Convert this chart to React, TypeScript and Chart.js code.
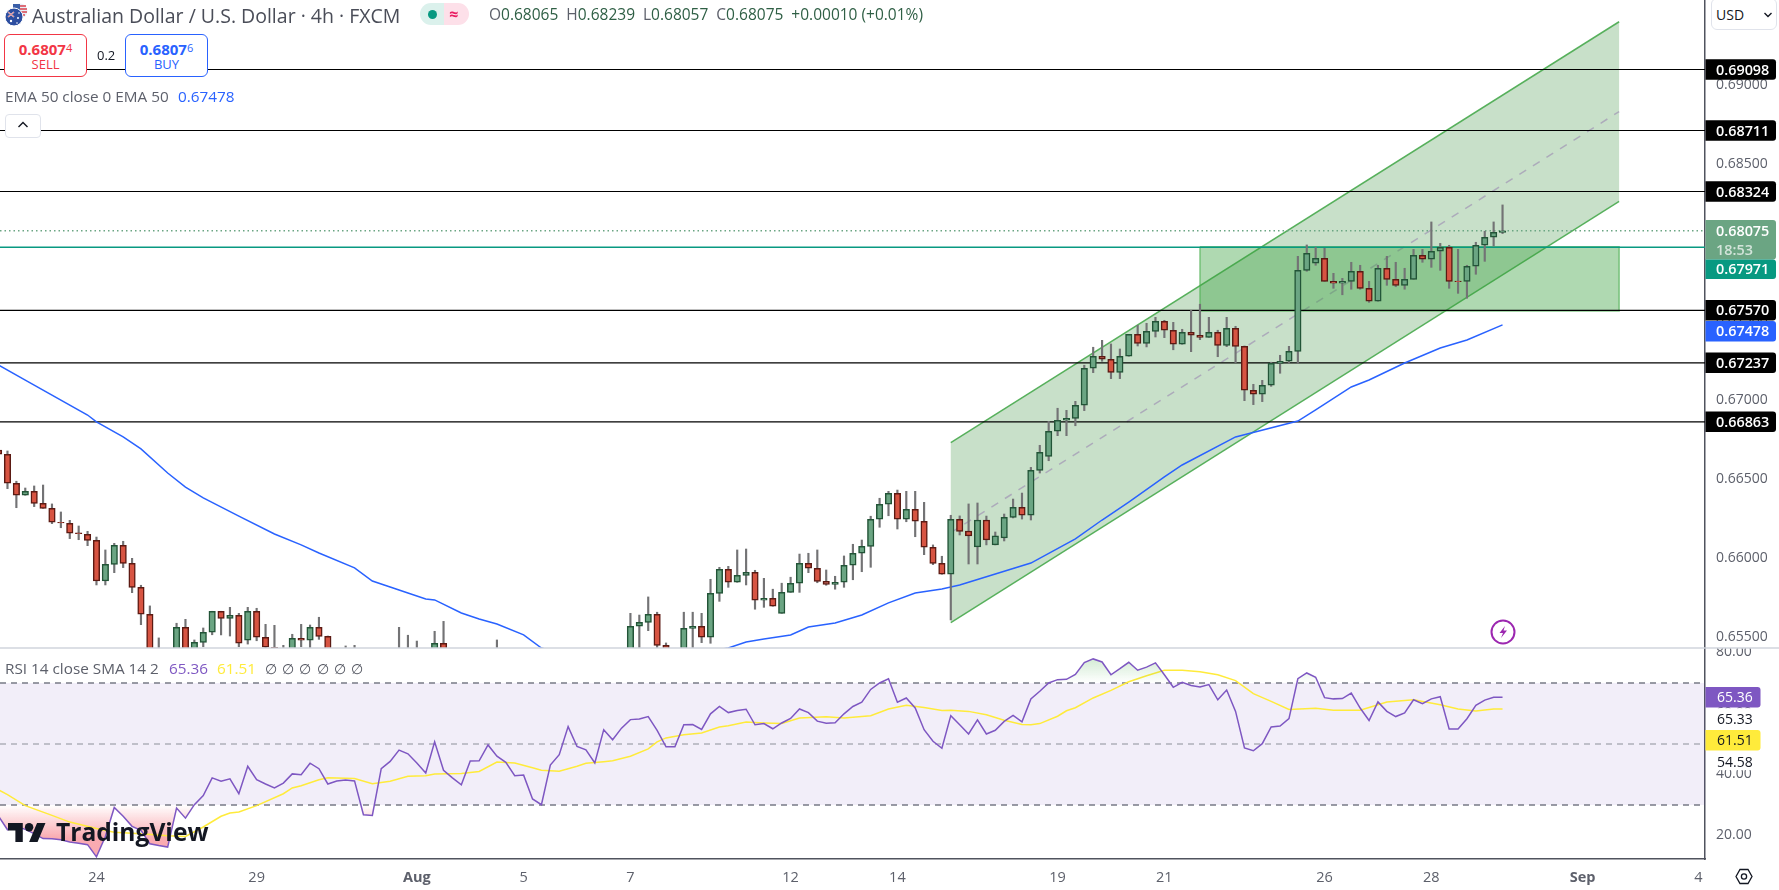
import { useEffect, useRef } from 'react'
import type { ReactNode } from 'react'
import { Chart, registerables } from 'chart.js'

Chart.register(...registerables)

// candles, first entry is the one half cut off at the left edge (index -1)
const opens = [
  0.66684, 0.66657, 0.66473, 0.66397, 0.66422, 0.66346, 0.66314, 0.66226, 0.66219, 0.66158,
  0.66149, 0.66111, 0.65853, 0.65959, 0.66080, 0.65965, 0.65813, 0.65642, 0.65377, 0.65162,
  0.65257, 0.65559, 0.65352, 0.65464, 0.65528, 0.65661, 0.65616, 0.65636, 0.65477, 0.65661,
  0.65496, 0.65433, 0.65384, 0.65339, 0.65490, 0.65477, 0.65559, 0.65502, 0.65320, 0.65225,
  0.65352, 0.65225, 0.65257, 0.65352, 0.65238, 0.65320, 0.65301, 0.65371, 0.65289, 0.65384,
  0.65458, 0.65365, 0.65290, 0.65350, 0.65280, 0.65340, 0.65420, 0.65380, 0.65310, 0.65360,
  0.65395, 0.65330, 0.65385, 0.65340, 0.65390, 0.65410, 0.65360, 0.65395, 0.65415, 0.65380,
  0.65370, 0.65384, 0.65566, 0.65591, 0.65642, 0.65445, 0.65301, 0.65377, 0.65553, 0.65566,
  0.65496, 0.65775, 0.65927, 0.65845, 0.65889, 0.65908, 0.65731, 0.65743, 0.65648, 0.65781,
  0.65839, 0.65965, 0.65934, 0.65851, 0.65832, 0.65845, 0.65953, 0.66029, 0.66073, 0.66245,
  0.66340, 0.66409, 0.66245, 0.66308, 0.66232, 0.66067, 0.65965, 0.65896, 0.66245, 0.66170,
  0.66069, 0.66240, 0.66082, 0.66126, 0.66257, 0.66321, 0.66270, 0.66555, 0.66644, 0.66803,
  0.66873, 0.66885, 0.66968, 0.67203, 0.67279, 0.67260, 0.67177, 0.67279, 0.67418, 0.67361,
  0.67437, 0.67501, 0.67444, 0.67355, 0.67431, 0.67412, 0.67399, 0.67431, 0.67348, 0.67456,
  0.67342, 0.67063, 0.67038, 0.67095, 0.67234, 0.67247, 0.67310, 0.67824, 0.67869, 0.67900,
  0.67754, 0.67742, 0.67754, 0.67818, 0.67710, 0.67628, 0.67837, 0.67767, 0.67729, 0.67767,
  0.67919, 0.67894, 0.67945, 0.67970, 0.67756, 0.67754, 0.67850, 0.67983, 0.68034, 0.68065,
]
const highs = [
  0.66716, 0.66678, 0.66486, 0.66443, 0.66456, 0.66462, 0.66342, 0.66291, 0.66238, 0.66202,
  0.66168, 0.66132, 0.66050, 0.66092, 0.66105, 0.65997, 0.65826, 0.65695, 0.65492, 0.65415,
  0.65585, 0.65610, 0.65479, 0.65555, 0.65661, 0.65661, 0.65686, 0.65648, 0.65686, 0.65680,
  0.65578, 0.65572, 0.65445, 0.65515, 0.65578, 0.65574, 0.65623, 0.65504, 0.65384, 0.65441,
  0.65445, 0.65365, 0.65403, 0.65384, 0.65415, 0.65559, 0.65509, 0.65472, 0.65415, 0.65534,
  0.65597, 0.65400, 0.65400, 0.65395, 0.65390, 0.65415, 0.65479, 0.65410, 0.65400, 0.65420,
  0.65415, 0.65410, 0.65405, 0.65415, 0.65425, 0.65420, 0.65418, 0.65425, 0.65425, 0.65420,
  0.65420, 0.65648, 0.65637, 0.65752, 0.65655, 0.65460, 0.65415, 0.65655, 0.65655, 0.65648,
  0.65864, 0.65940, 0.65946, 0.66050, 0.66056, 0.65921, 0.65870, 0.65801, 0.65839, 0.65877,
  0.66024, 0.66029, 0.66050, 0.65923, 0.65883, 0.66012, 0.66086, 0.66113, 0.66264, 0.66378,
  0.66422, 0.66430, 0.66422, 0.66422, 0.66352, 0.66082, 0.66010, 0.66270, 0.66266, 0.66342,
  0.66348, 0.66265, 0.66164, 0.66278, 0.66373, 0.66411, 0.66574, 0.66714, 0.66866, 0.66949,
  0.66936, 0.66993, 0.67222, 0.67336, 0.67380, 0.67357, 0.67325, 0.67418, 0.67475, 0.67488,
  0.67526, 0.67507, 0.67494, 0.67450, 0.67570, 0.67609, 0.67526, 0.67444, 0.67526, 0.67469,
  0.67344, 0.67101, 0.67126, 0.67241, 0.67285, 0.67342, 0.67913, 0.67985, 0.67970, 0.67964,
  0.67805, 0.67773, 0.67875, 0.67856, 0.67754, 0.67856, 0.67913, 0.67875, 0.67837, 0.67957,
  0.67957, 0.68131, 0.67995, 0.67983, 0.67957, 0.67856, 0.68002, 0.68072, 0.68131, 0.68239,
]
const lows = [
  0.66633, 0.66439, 0.66318, 0.66397, 0.66325, 0.66314, 0.66217, 0.66191, 0.66122, 0.66115,
  0.66077, 0.65828, 0.65828, 0.65906, 0.65938, 0.65779, 0.65576, 0.65301, 0.65225, 0.65111,
  0.65193, 0.65301, 0.65314, 0.65436, 0.65512, 0.65511, 0.65504, 0.65436, 0.65453, 0.65474,
  0.65384, 0.65301, 0.65276, 0.65289, 0.65436, 0.65422, 0.65483, 0.65276, 0.65162, 0.65162,
  0.65193, 0.65162, 0.65212, 0.65174, 0.65193, 0.65257, 0.65238, 0.65225, 0.65238, 0.65352,
  0.65320, 0.65260, 0.65250, 0.65240, 0.65250, 0.65310, 0.65320, 0.65270, 0.65280, 0.65330,
  0.65300, 0.65300, 0.65310, 0.65320, 0.65360, 0.65330, 0.65340, 0.65375, 0.65350, 0.65360,
  0.65340, 0.65352, 0.65384, 0.65538, 0.65403, 0.65320, 0.65276, 0.65352, 0.65403, 0.65462,
  0.65458, 0.65724, 0.65813, 0.65845, 0.65828, 0.65674, 0.65686, 0.65693, 0.65648, 0.65781,
  0.65781, 0.65906, 0.65842, 0.65826, 0.65801, 0.65813, 0.65861, 0.65912, 0.65940, 0.66194,
  0.66267, 0.66183, 0.66229, 0.66134, 0.66020, 0.65957, 0.65896, 0.65606, 0.66145, 0.65961,
  0.65961, 0.66082, 0.66082, 0.66107, 0.66253, 0.66246, 0.66240, 0.66538, 0.66616, 0.66775,
  0.66775, 0.66838, 0.66934, 0.67175, 0.67247, 0.67137, 0.67137, 0.67279, 0.67344, 0.67338,
  0.67401, 0.67397, 0.67320, 0.67355, 0.67308, 0.67384, 0.67399, 0.67276, 0.67340, 0.67238,
  0.66997, 0.66972, 0.66991, 0.67088, 0.67171, 0.67234, 0.67234, 0.67818, 0.67856, 0.67754,
  0.67710, 0.67669, 0.67704, 0.67704, 0.67621, 0.67628, 0.67729, 0.67720, 0.67704, 0.67767,
  0.67875, 0.67843, 0.67824, 0.67710, 0.67678, 0.67647, 0.67799, 0.67881, 0.67978, 0.68057,
]
const closes = [
  0.66657, 0.66473, 0.66397, 0.66422, 0.66346, 0.66314, 0.66226, 0.66222, 0.66156, 0.66154,
  0.66111, 0.65853, 0.65959, 0.66080, 0.65965, 0.65813, 0.65642, 0.65352, 0.65276, 0.65320,
  0.65559, 0.65352, 0.65464, 0.65528, 0.65661, 0.65616, 0.65636, 0.65458, 0.65661, 0.65496,
  0.65433, 0.65365, 0.65320, 0.65490, 0.65477, 0.65559, 0.65502, 0.65320, 0.65238, 0.65339,
  0.65276, 0.65301, 0.65352, 0.65238, 0.65365, 0.65403, 0.65371, 0.65289, 0.65384, 0.65458,
  0.65365, 0.65301, 0.65350, 0.65280, 0.65340, 0.65390, 0.65360, 0.65310, 0.65360, 0.65395,
  0.65330, 0.65385, 0.65340, 0.65390, 0.65410, 0.65360, 0.65395, 0.65415, 0.65380, 0.65405,
  0.65384, 0.65566, 0.65591, 0.65642, 0.65445, 0.65365, 0.65377, 0.65553, 0.65566, 0.65496,
  0.65775, 0.65927, 0.65845, 0.65889, 0.65908, 0.65731, 0.65743, 0.65693, 0.65781, 0.65839,
  0.65965, 0.65934, 0.65851, 0.65832, 0.65845, 0.65953, 0.66029, 0.66073, 0.66245, 0.66340,
  0.66409, 0.66245, 0.66308, 0.66232, 0.66067, 0.65965, 0.65896, 0.66245, 0.66168, 0.66139,
  0.66240, 0.66113, 0.66139, 0.66257, 0.66321, 0.66270, 0.66555, 0.66670, 0.66803, 0.66873,
  0.66885, 0.66968, 0.67203, 0.67279, 0.67260, 0.67177, 0.67279, 0.67418, 0.67361, 0.67437,
  0.67501, 0.67444, 0.67355, 0.67431, 0.67412, 0.67399, 0.67431, 0.67348, 0.67456, 0.67342,
  0.67063, 0.67038, 0.67095, 0.67234, 0.67247, 0.67310, 0.67824, 0.67932, 0.67900, 0.67754,
  0.67742, 0.67754, 0.67818, 0.67710, 0.67628, 0.67837, 0.67767, 0.67729, 0.67767, 0.67919,
  0.67894, 0.67945, 0.67970, 0.67754, 0.67752, 0.67850, 0.67983, 0.68034, 0.68065, 0.68075,
]

// EMA 50, read at these candle indexes
const emaIndexes = [
  -1, 2, 9, 10, 13, 15, 18, 20, 22, 26, 30, 33, 35, 39, 41, 43, 45, 47, 48, 51, 53, 55, 58, 60,
  66, 74, 81, 83, 85, 88, 90, 93, 96, 99, 102, 105, 107, 115, 120, 123, 126, 130, 132, 138, 145,
  147, 151, 153, 157, 161, 164, 168,
]
const emaValues = [
  0.67223, 0.67128, 0.66906, 0.66862, 0.66767, 0.66691, 0.66538, 0.66449, 0.6638, 0.66265, 0.66151,
  0.66082, 0.66031, 0.65936, 0.65853, 0.65815, 0.65777, 0.65739, 0.65733, 0.6565, 0.65612, 0.6558,
  0.65511, 0.65428, 0.6534, 0.6536, 0.65428, 0.65466, 0.65485, 0.65511, 0.65561, 0.65587, 0.65637,
  0.65714, 0.65777, 0.65802, 0.65828, 0.65967, 0.6612, 0.6624, 0.66354, 0.66513, 0.66589, 0.66767,
  0.66868, 0.66938, 0.67084, 0.67128, 0.67236, 0.67331, 0.67382, 0.67478,
]

// RSI 14, one value per candle
const rsiValues = [
  26.3, 21.9, 23, 22, 20.6, 19, 18.9, 18.6, 17.9, 17.5, 17, 13, 19.7, 29.2, 26.3, 23, 21.7, 17.3, 16.7, 16.2,
  29, 25.7, 30.1, 33.1, 38.9, 37.8, 38.6, 33.7, 42.7, 38.3, 36.9, 35.6, 37.2, 40.2, 39.9, 43.7, 41.9, 36.9, 37.9, 38.2,
  37.9, 26.8, 26.6, 41.9, 44.3, 48, 46.8, 43.8, 40.5, 50.7, 41.4, 38.9, 36.6, 44.4, 44.5, 49.7, 46, 44, 39.6, 39.8,
  32, 30.1, 43.1, 46.5, 55.7, 49.2, 48.1, 43.8, 54.7, 51.4, 55.2, 58, 58.2, 59, 54.5, 49.1, 49.1, 56.3, 56.4, 54.8,
  59.9, 62.3, 60.3, 61, 61.4, 56.3, 56.7, 55, 56.9, 58.4, 61.5, 60.3, 57.5, 56.8, 57, 59.9, 62.3, 63.7, 67.9, 70,
  71.4, 63.7, 65.1, 61.8, 54.7, 50.9, 48.6, 59.3, 56.3, 53.3, 57.9, 53.3, 54.5, 57.4, 59.4, 57.3, 64.8, 67.3, 70, 71.1,
  71.2, 72.8, 76.7, 77.9, 76.9, 72.7, 74.7, 76.8, 74.2, 75.2, 76.6, 72.7, 68.6, 70.2, 69.2, 68.7, 69.5, 64.5, 67.7, 60.7,
  48.7, 47.8, 50.1, 55.6, 55.9, 58.3, 71.4, 73.3, 71.9, 65.2, 64.8, 64.9, 66.7, 61.8, 57.7, 63.8, 60.7, 59, 60.2, 64.5,
  63.2, 64.8, 65.5, 54.9, 54.9, 58.3, 62.7, 64.4, 65.3, 65.36,
]

// RSI based SMA, read at these candle indexes
const smaIndexes = [
  -1, 0, 2, 5, 7, 10, 12, 15, 18, 20, 22, 24, 25, 26, 28, 31, 32, 33, 35, 36, 39, 41, 43, 45, 47, 48, 51, 53,
  55, 57, 59, 60, 62, 64, 65, 67, 68, 70, 72, 73, 74, 76, 78, 80, 81, 83, 85, 87, 89, 92, 94, 97, 99, 101, 103,
  105, 106, 108, 110, 112, 114, 115, 116, 118, 119, 120, 122, 124, 126, 128, 130, 132, 134, 136, 138, 140, 142,
  144, 147, 149, 152, 154, 155, 158, 161, 163, 165, 167, 168,
]
const smaValues = [
  35, 33.4, 29.8, 26.6, 24.4, 22.3, 21.1, 20.6, 19.9, 19.7, 22.8, 26.3, 27.4, 27.7, 29.8, 33.7, 35.6, 36.3, 38.3,
  38.9, 38.7, 37, 37.8, 39.4, 39.6, 40.2, 40.3, 41, 44.1, 43.8, 42.2, 41.4, 41.1, 42.7, 43.7, 44.2, 44.5, 46, 48.4,
  50.7, 52, 53, 53.6, 55.6, 56, 57.2, 56.9, 56.7, 58.5, 58.9, 58.5, 59.3, 61.5, 62.7, 62, 61, 61.1, 60.7, 59.6, 57.8,
  56.4, 56.3, 56.7, 59.1, 60.9, 61.9, 65.1, 67.6, 70.4, 72.4, 74.2, 74.2, 73.7, 72.7, 70.8, 66.5, 64, 61.3, 61.7, 61.1,
  61.1, 62.9, 63.8, 64.5, 62.9, 61.5, 60.8, 61.5, 61.51,
]

// horizontal levels
const levelValues = [0.69098, 0.68711, 0.68324, 0.6757, 0.67237, 0.66863]
const levelLabels = ['0.69098', '0.68711', '0.68324', '0.67570', '0.67237', '0.66863']
const lastPrice = 0.68075
const bidLine = 0.67971
const emaLast = 0.67478

// channel and zone drawings
const channelIndexes = [106, 181.1]
const channelUpper = [0.66731, 0.69401]
const channelMiddle = [0.6616, 0.68831]
const channelLower = [0.65589, 0.68262]
const zoneIndexes = [134, 181.1]
const zoneTop = 0.67974
const zoneBottom = 0.67566

// axes
const priceTicks = [0.69, 0.685, 0.68, 0.675, 0.67, 0.665, 0.66, 0.655]
const rsiTicks = [80, 60, 40, 20]
const dateIndexes = [10, 28, 46, 58, 70, 88, 100, 118, 130, 148, 160, 177, 190]
const dateLabels = ['24', '29', 'Aug', '5', '7', '12', '14', '19', '21', '26', '28', 'Sep', '4']
const rsiGuides = [70, 50, 30]

const X_MIN = -0.84
const X_MAX = 190.75
const FONT = '"Open Sans", sans-serif'
const GREY = '#5d606b'

const candleIndexes = opens.map((_, i) => i - 1)
const fullWidth = (value: number) => [
  { x: X_MIN, y: value },
  { x: X_MAX, y: value },
]
const pairs = (xs: number[], ys: number[]) => xs.map((x, i) => ({ x, y: ys[i] }))

// labels hanging over the axis ends must not shrink the panes
function clearPadding(scale: any) {
  scale.paddingTop = 0
  scale.paddingBottom = 0
  scale.paddingLeft = 0
  scale.paddingRight = 0
}

function drawBadge(
  ctx: CanvasRenderingContext2D,
  y: number,
  h: number,
  w: number,
  bg: string,
) {
  ctx.fillStyle = bg
  ctx.beginPath()
  ctx.roundRect(1705.5, y - h / 2, w, h, [0, 3, 3, 0])
  ctx.fill()
}

function drawText(ctx: CanvasRenderingContext2D, text: string, x: number, y: number, color: string, bold = false, size = 14.4) {
  ctx.fillStyle = color
  ctx.font = `${bold ? '600 ' : ''}${size}px ${FONT}`
  ctx.textAlign = 'left'
  ctx.textBaseline = 'middle'
  ctx.fillText(text, x, y + 1)
}

const badgePlugin = {
  id: 'badges',
  afterDraw(chart: any) {
    const { ctx } = chart
    const price = chart.scales.y
    const rsi = chart.scales.yRsi
    ctx.save()

    // top of the RSI scale is cut by the pane edge
    ctx.fillStyle = '#ffffff'
    ctx.fillRect(1707, price.bottom - 4, 72, 4)

    // pane separator
    ctx.strokeStyle = '#d1d4dc'
    ctx.lineWidth = 1.5
    ctx.beginPath()
    ctx.moveTo(0, price.bottom)
    ctx.lineTo(1779, price.bottom)
    ctx.stroke()

    levelValues.forEach((value, i) => {
      const y = price.getPixelForValue(value)
      drawBadge(ctx, y, 20.5, 70.5, '#000000')
      drawText(ctx, levelLabels[i], 1716, y, '#ffffff', true)
    })

    const lastY = price.getPixelForValue(lastPrice)
    drawBadge(ctx, lastY + 9, 39.5, 70.5, '#6ba583')
    drawText(ctx, lastPrice.toFixed(5), 1716, lastY, '#ffffff', true)
    drawText(ctx, '18:53', 1716, lastY + 19, '#d3e4da', true)

    const bidY = price.getPixelForValue(bidLine) + 22
    drawBadge(ctx, bidY, 19.5, 70.5, '#089981')
    drawText(ctx, bidLine.toFixed(5), 1716, bidY, '#ffffff', true)

    const emaY = price.getPixelForValue(emaLast) + 6.5
    drawBadge(ctx, emaY, 20.5, 70.5, '#2962ff')
    drawText(ctx, emaLast.toFixed(5), 1716, emaY, '#ffffff', true)

    const rsiY = rsi.getPixelForValue(65.36)
    ctx.fillStyle = '#ffffff'
    ctx.fillRect(1706, rsiY + 11, 70, 22)
    ctx.fillRect(1706, rsiY + 55, 70, 18)
    drawBadge(ctx, rsiY, 20.5, 55, '#7e57c2')
    drawText(ctx, '65.36', 1717, rsiY, '#ffffff', false, 14)
    drawText(ctx, '65.33', 1717, rsiY + 22, '#131722', false, 14)
    drawBadge(ctx, rsiY + 43, 20.5, 55, '#ffeb3b')
    drawText(ctx, '61.51', 1717, rsiY + 43, '#131722', false, 14)
    drawText(ctx, '54.58', 1717, rsiY + 65, '#131722', false, 14)

    ctx.restore()
  },
}

function Txt(props: { x: number; y: number; color?: string; size?: number; weight?: number; children: ReactNode }) {
  const { x, y, color = GREY, size = 15.3, weight = 400, children } = props
  return (
    <span
      style={{
        position: 'absolute',
        left: x,
        top: y,
        transform: 'translateY(-50%)',
        color,
        fontSize: size,
        fontWeight: weight,
        fontFamily: FONT,
        whiteSpace: 'nowrap',
        lineHeight: 1,
      }}
    >
      {children}
    </span>
  )
}

function TradeButton(props: { x: number; color: string; price: string; small: string; label: string }) {
  const { x, color, price, small, label } = props
  return (
    <div
      style={{
        position: 'absolute',
        left: x,
        top: 34,
        width: 83,
        height: 43,
        boxSizing: 'border-box',
        border: `1px solid ${color}`,
        borderRadius: 6,
        background: '#fff',
        color,
        fontFamily: FONT,
        textAlign: 'center',
      }}
    >
      <div style={{ fontSize: 15, fontWeight: 700, lineHeight: '16px', marginTop: 5 }}>
        {price}
        <span style={{ fontSize: 11, fontWeight: 400, verticalAlign: 3 }}>{small}</span>
      </div>
      <div style={{ fontSize: 13, lineHeight: '15px', marginTop: 0 }}>{label}</div>
    </div>
  )
}

export default function App() {
  const canvasRef = useRef<HTMLCanvasElement | null>(null)

  useEffect(() => {
    if (!canvasRef.current) return
    const ctx = canvasRef.current.getContext('2d')
    if (!ctx) return

    const overbought = ctx.createLinearGradient(0, 655, 0, 683)
    overbought.addColorStop(0, 'rgba(76,175,80,0.28)')
    overbought.addColorStop(1, 'rgba(76,175,80,0)')
    const oversold = ctx.createLinearGradient(0, 805, 0, 838)
    oversold.addColorStop(0, 'rgba(242,54,69,0)')
    oversold.addColorStop(1, 'rgba(242,54,69,0.42)')

    const hLine = (data: any[], color: string, width: number, order: number, extra: object = {}) => ({
      type: 'line' as const,
      data,
      yAxisID: 'y',
      borderColor: color,
      borderWidth: width,
      pointRadius: 0,
      order,
      ...extra,
    })

    const chart = new Chart(ctx, {
      type: 'bar',
      data: {
        datasets: [
          {
            type: 'bar',
            data: candleIndexes.map((x, i) => ({ x, y: [lows[i], highs[i]] })),
            yAxisID: 'y',
            backgroundColor: '#737375',
            barThickness: 1.5,
            grouped: false,
            order: 2,
          },
          {
            type: 'bar',
            data: candleIndexes.map((x, i) => ({ x, y: [opens[i], closes[i]] })),
            yAxisID: 'y',
            backgroundColor: closes.map((c, i) => (c >= opens[i] ? '#6ba583' : '#d75442')),
            borderColor: closes.map((c, i) => (c >= opens[i] ? '#225437' : '#5b1a13')),
            borderWidth: 1.5,
            borderSkipped: false,
            barThickness: 6.5,
            grouped: false,
            order: 1,
          },
          hLine(pairs(emaIndexes, emaValues), '#2962ff', 1.5, 3),
          hLine(
            pairs(
              [channelIndexes[0], channelIndexes[1], channelIndexes[1], channelIndexes[0], channelIndexes[0]],
              [channelUpper[0], channelUpper[1], channelLower[1], channelLower[0], channelUpper[0]],
            ),
            'transparent',
            0,
            20,
            { fill: 'shape', backgroundColor: 'rgba(56,142,60,0.28)' },
          ),
          hLine(pairs(channelIndexes, channelMiddle), 'rgba(170,165,185,0.9)', 1.5, 19, { borderDash: [8, 8] }),
          hLine(pairs(channelIndexes, channelUpper), '#57b05c', 1.5, 18),
          hLine(pairs(channelIndexes, channelLower), '#57b05c', 1.5, 18),
          hLine(
            pairs(
              [zoneIndexes[0], zoneIndexes[1], zoneIndexes[1], zoneIndexes[0], zoneIndexes[0]],
              [zoneTop, zoneTop, zoneBottom, zoneBottom, zoneTop],
            ),
            'rgba(76,175,80,0.65)',
            1.5,
            17,
            { fill: 'shape', backgroundColor: 'rgba(56,160,60,0.4)' },
          ),
          ...levelValues.map(value => hLine(fullWidth(value), '#000000', 1.2, 10)),
          hLine(fullWidth(bidLine), '#089981', 1.5, 11),
          hLine(fullWidth(lastPrice), '#6ba583', 1.5, 12, { borderDash: [1.5, 3] }),
          // RSI pane
          {
            type: 'line',
            data: fullWidth(rsiGuides[0]),
            yAxisID: 'yRsi',
            borderColor: '#787b86',
            borderWidth: 1.5,
            borderDash: [6, 5],
            pointRadius: 0,
            fill: { value: rsiGuides[2] },
            backgroundColor: 'rgba(126,87,194,0.1)',
            order: 9,
          },
          ...rsiGuides.slice(1).map((value, i) => ({
            type: 'line' as const,
            data: fullWidth(value),
            yAxisID: 'yRsi',
            borderColor: i === 0 ? 'rgba(120,123,134,0.55)' : '#787b86',
            borderWidth: 1.5,
            borderDash: [6, 5],
            pointRadius: 0,
            order: 8,
          })),
          {
            type: 'line',
            data: rsiValues.map((y, i) => ({ x: i - 1, y })),
            yAxisID: 'yRsi',
            borderColor: 'transparent',
            borderWidth: 0,
            pointRadius: 0,
            fill: { target: { value: 30 }, above: 'transparent', below: oversold },
            order: 7,
          },
          {
            type: 'line',
            data: rsiValues.map((y, i) => ({ x: i - 1, y })),
            yAxisID: 'yRsi',
            borderColor: '#7e57c2',
            borderWidth: 1.5,
            pointRadius: 0,
            fill: { target: { value: 70 }, above: overbought, below: 'transparent' },
            order: 5,
          },
          {
            type: 'line',
            data: pairs(smaIndexes, smaValues),
            yAxisID: 'yRsi',
            borderColor: '#ffeb3b',
            borderWidth: 1.5,
            pointRadius: 0,
            order: 6,
          },
        ] as any,
      },
      options: {
        animation: false,
        responsive: false,
        devicePixelRatio: 1,
        events: [],
        layout: { padding: 0, autoPadding: false },
        plugins: { legend: { display: false }, tooltip: { enabled: false } },
        scales: {
          x: {
            type: 'linear',
            offset: false,
            min: X_MIN,
            max: X_MAX,
            grid: { display: false },
            border: { color: '#50535e', width: 1.5 },
            afterBuildTicks: (scale: any) => {
              scale.ticks = dateIndexes.map(value => ({ value }))
            },
            afterFit: (scale: any) => {
              scale.height = 31
              clearPadding(scale)
            },
            ticks: {
              autoSkip: false,
              maxRotation: 0,
              padding: 2,
              color: GREY,
              font: (c: any) => ({
                family: FONT,
                size: 14.5,
                weight: isNaN(Number(dateLabels[c.index])) ? 700 : 400,
              }),
              callback: (_v: any, i: number) => dateLabels[i],
            },
          },
          y: {
            type: 'linear',
            position: 'right',
            stack: 'panes',
            stackWeight: 648,
            min: 0.65428,
            max: 0.69539,
            grid: { display: false },
            border: { color: '#50535e', width: 1.5 },
            afterBuildTicks: (scale: any) => {
              scale.ticks = priceTicks.map(value => ({ value }))
            },
            afterFit: (scale: any) => {
              scale.width = 74
              clearPadding(scale)
            },
            ticks: {
              padding: 3,
              color: GREY,
              font: { family: FONT, size: 14 },
              callback: (v: any) => Number(v).toFixed(5),
            },
          },
          yRsi: {
            type: 'linear',
            position: 'right',
            stack: 'panes',
            stackWeight: 211,
            min: 12.3,
            max: 81.48,
            grid: { display: false },
            border: { color: '#50535e', width: 1.5 },
            afterBuildTicks: (scale: any) => {
              scale.ticks = rsiTicks.map(value => ({ value }))
            },
            afterFit: (scale: any) => {
              scale.width = 74
              clearPadding(scale)
            },
            ticks: {
              padding: 3,
              color: GREY,
              font: { family: FONT, size: 14 },
              callback: (v: any) => Number(v).toFixed(2),
            },
          },
        },
      },
      plugins: [badgePlugin],
    } as any)

    return () => {
      chart.destroy()
    }
  }, [])

  const ohlc = [
    ['O', '0.68065'],
    ['H', '0.68239'],
    ['L', '0.68057'],
    ['C', '0.68075'],
  ]
  const OHLC_GREEN = '#2f5f45'

  return (
    <div style={{ position: 'fixed', left: 0, top: 0, width: 1779, height: 890, overflow: 'hidden', background: '#fff' }}>
      <canvas ref={canvasRef} width={1779} height={890} style={{ display: 'block' }} />

      {/* symbol row */}
      <svg style={{ position: 'absolute', left: 4, top: 3 }} width={26} height={24} viewBox="0 0 26 24">
        <circle cx="16" cy="8" r="7.5" fill="#e8eef7" />
        <path d="M9 6h14M10 3h12M9 9h14M10 12h11" stroke="#d9434e" strokeWidth="1.4" />
        <rect x="9" y="1" width="7" height="6" fill="#3a5fa8" />
        <circle cx="10" cy="14" r="9" fill="#2d4ea0" stroke="#fff" strokeWidth="1" />
        <path d="M4 9l6 5M10 9l-6 5" stroke="#f0f0f0" strokeWidth="1.4" />
        <path d="M4 9l6 5M10 9l-6 5" stroke="#d9434e" strokeWidth="0.6" />
        <circle cx="7" cy="18" r="1.2" fill="#fff" />
        <circle cx="14" cy="15" r="1" fill="#fff" />
        <circle cx="15" cy="10" r="0.8" fill="#fff" />
        <circle cx="13" cy="20" r="0.8" fill="#fff" />
      </svg>
      <Txt x={32} y={15.5} size={19.5} color="#4a4d58">
        Australian Dollar / U.S. Dollar · 4h · FXCM
      </Txt>
      <div style={{ position: 'absolute', left: 420, top: 3, width: 24, height: 22, background: '#dbf1ec', borderRadius: '11px 0 0 11px' }} />
      <div style={{ position: 'absolute', left: 444, top: 3, width: 25, height: 22, background: '#fde0e9', borderRadius: '0 11px 11px 0' }} />
      <div style={{ position: 'absolute', left: 428, top: 9.5, width: 9, height: 9, background: '#089981', borderRadius: '50%' }} />
      <Txt x={449} y={14} size={16} weight={700} color="#e91e63">
        ≈
      </Txt>
      <div
        style={{
          position: 'absolute',
          left: 489,
          top: 15,
          transform: 'translateY(-50%)',
          fontFamily: FONT,
          fontSize: 15.5,
          whiteSpace: 'nowrap',
          lineHeight: 1,
          color: GREY,
        }}
      >
        {ohlc.map(([letter, value]) => (
          <span key={letter} style={{ marginRight: 8 }}>
            {letter}
            <span style={{ color: OHLC_GREEN }}>{value}</span>
          </span>
        ))}
        <span style={{ color: OHLC_GREEN }}>+0.00010 (+0.01%)</span>
      </div>

      {/* trade buttons */}
      <TradeButton x={4} color="#f23645" price="0.6807" small="4" label="SELL" />
      <Txt x={97} y={55} size={13} color="#131722">
        0.2
      </Txt>
      <TradeButton x={125} color="#2962ff" price="0.6807" small="6" label="BUY" />

      {/* indicator legends */}
      <Txt x={5} y={97}>
        EMA 50 close 0 EMA 50
      </Txt>
      <Txt x={178} y={97} color="#2962ff">
        0.67478
      </Txt>
      <div style={{ position: 'absolute', left: 5, top: 114, width: 36, height: 24, boxSizing: 'border-box', border: '1px solid #e0e3eb', borderRadius: 4, background: '#fff' }} />
      <svg style={{ position: 'absolute', left: 16, top: 120 }} width={14} height={10} viewBox="0 0 14 10">
        <path d="M2.5 7L7 2.5 11.5 7" fill="none" stroke="#131722" strokeWidth="1.4" />
      </svg>
      <Txt x={5} y={669}>
        RSI 14 close SMA 14 2
      </Txt>
      <Txt x={169} y={669} color="#7e57c2">
        65.36
      </Txt>
      <Txt x={217} y={669} color="#ffeb3b">
        61.51
      </Txt>
      {[0, 1, 2, 3, 4, 5].map(i => (
        <Txt key={i} x={265 + i * 17.2} y={669} size={14} color="#50535e">
          ∅
        </Txt>
      ))}

      {/* price scale currency */}
      <div style={{ position: 'absolute', left: 1711, top: -2, width: 66, height: 32, boxSizing: 'border-box', border: '1px solid #e0e3eb', borderRadius: 6, background: '#fff' }} />
      <Txt x={1716} y={15} size={14} color="#131722">
        USD
      </Txt>
      <svg style={{ position: 'absolute', left: 1763, top: 11 }} width={10} height={8} viewBox="0 0 10 8">
        <path d="M1.5 2L5 5.5 8.5 2" fill="none" stroke="#131722" strokeWidth="1.4" />
      </svg>

      {/* earnings style marker */}
      <svg style={{ position: 'absolute', left: 1490, top: 619 }} width={26} height={26} viewBox="0 0 26 26">
        <circle cx="13" cy="13" r="11.5" fill="#fff" stroke="#9c27b0" strokeWidth="2" />
        <path d="M15 7l-5.5 7H13l-2 5 6-7.5h-3.5z" fill="#9c27b0" />
      </svg>

      {/* logo */}
      <svg style={{ position: 'absolute', left: 8, top: 823 }} width={38} height={19} viewBox="0 4 36 18">
        <path d="M14 22H7V11H0V4h14v18zM28 22h-8l7.5-18h8L28 22z" fill="#131722" />
        <circle cx="20" cy="8" r="4" fill="#131722" />
      </svg>
      <Txt x={56} y={832} size={24.6} weight={700} color="#131722">
        TradingView
      </Txt>

      {/* settings */}
      <svg style={{ position: 'absolute', left: 1735, top: 868 }} width={18} height={17} viewBox="0 0 18 17">
        <path d="M1 8.5L5 1.5h8l4 7-4 7H5z" fill="none" stroke="#131722" strokeWidth="1.3" />
        <circle cx="9" cy="8.5" r="2.6" fill="none" stroke="#131722" strokeWidth="1.3" />
      </svg>
    </div>
  )
}
